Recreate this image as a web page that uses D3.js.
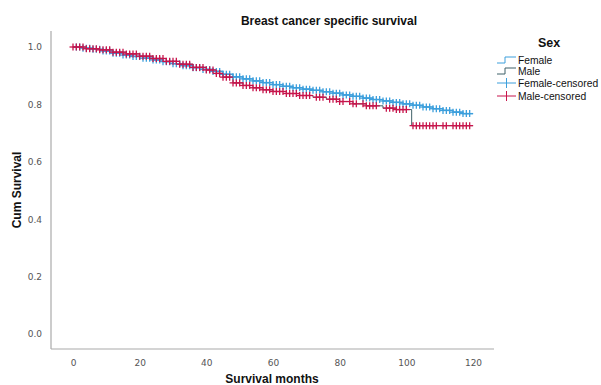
<!DOCTYPE html>
<html><head><meta charset="utf-8">
<script src="https://cdn.jsdelivr.net/npm/d3@7"></script>
<style>body{margin:0;background:#fff}</style>
</head><body>
<script>
// ---- data ----
const xTicks = [0,20,40,60,80,100,120];
const yTicks = [0.0,0.2,0.4,0.6,0.8,1.0];
const femaleTimes = [0,3,6,9,12,15,18,21,24,27,30,33,36,39,42,45,48,51,54,57,60,63,66,69,72,75,78,81,84,87,90,93,96,99,102,105,108,111,114,117,120];
const femaleSurv  = [1.0,0.996,0.992,0.986,0.978,0.972,0.967,0.961,0.955,0.949,0.942,0.935,0.928,0.922,0.915,0.905,0.896,0.889,0.882,0.876,0.869,0.863,0.858,0.853,0.849,0.844,0.839,0.833,0.828,0.822,0.817,0.812,0.807,0.802,0.797,0.791,0.785,0.779,0.773,0.768,0.768];
const maleTimes = [0,4,8,12,16,20,24,28,32,36,40,43,45,48,51,54,57,60,64,68,72,76,80,84,88,93,97,101.6,120];
const maleSurv  = [1.0,0.994,0.990,0.982,0.976,0.968,0.960,0.950,0.940,0.929,0.920,0.908,0.895,0.875,0.866,0.858,0.851,0.845,0.838,0.831,0.825,0.818,0.810,0.802,0.795,0.787,0.782,0.726,0.726];
const femaleCensored = [1,2,3,4,5,6,7,8,9,10,11,12,13,14,15,16,17,18,19,20,21,22,23,24,25,26,27,28,29,30,31,32,33,34,35,36,37,38,39,40,41,42,43,44,45,46,47,48,49,50,51,52,53,54,55,56,57,58,59,60,61,62,63,64,65,66,67,68,69,70,71,72,73,74,75,76,77,78,79,80,81,82,83,84,85,86,87,88,89,90,91,92,93,94,95,96,97,98,99,100,101,102,103,104,105,106,107,108,109,110,111,112,113,114,115,116,117,118,119];
const maleCensored = [0,1,2,3,4,5,6,7,8,9,10,11,12,13,14,15,16,17,18,19,20,21,22,23,24,25,26,27,28,29,30,31,32,33,34,35,36,37,38,39,40,41,42,43,44,45,46,47,48,49,50,51,52,53,54,55,56,57,58,59,60,61,62,63,64,65,66,67,68,69,70,71,73,74,75,77,78,79,80,81,83,84,85,87,88,89,90,91,94,95,96,97,98,99,100,102,103,104,105,106,107,108,109,111,112,114,115,116,117,118,119];
const seriesNames = ["Female","Male","Female-censored","Male-censored"];

// ---- layout ----
const W = 601, H = 385;
const svg = d3.select("body").append("svg").attr("width", W).attr("height", H)
  .style("font-family", "'Liberation Sans', Arial, sans-serif");

const x = d3.scaleLinear().domain([0,120]).range([73,473]);
const y = d3.scaleLinear().domain([0,1]).range([334,47]);
const axisColor = "#aaa";
const blue = "#3c9fdc", red = "#c8154c", maleLine = "#3f6068";

// axes lines
svg.append("line").attr("x1",51).attr("x2",51).attr("y1",31).attr("y2",349).attr("stroke",axisColor).attr("stroke-width",1.2);
svg.append("line").attr("x1",51).attr("x2",494).attr("y1",349).attr("y2",349).attr("stroke",axisColor).attr("stroke-width",1.2);

// tick labels via axes (no tick lines)
const xa = svg.append("g").attr("transform","translate(0,349)")
  .call(d3.axisBottom(x).tickValues(xTicks).tickSize(0).tickPadding(11).tickFormat(d3.format("d")));
xa.select(".domain").remove();
xa.selectAll("text").attr("fill","#555").style("font-size","9px").style("font-family","'DejaVu Sans', sans-serif");
const ya = svg.append("g").attr("transform","translate(51,0)")
  .call(d3.axisLeft(y).tickValues(yTicks).tickSize(0).tickPadding(9).tickFormat(d3.format(".1f")));
ya.select(".domain").remove();
ya.selectAll("text").attr("fill","#555").style("font-size","9px").style("font-family","'DejaVu Sans', sans-serif");

// titles
svg.append("text").attr("x",329).attr("y",25).attr("text-anchor","middle")
  .style("font-weight","bold").style("font-size","12px").attr("fill","#111").text("Breast cancer specific survival");
svg.append("text").attr("x",272).attr("y",383).attr("text-anchor","middle")
  .style("font-weight","bold").style("font-size","12px").attr("fill","#111").text("Survival months");
svg.append("text").attr("transform","translate(21,190) rotate(-90)").attr("text-anchor","middle")
  .style("font-weight","bold").style("font-size","12px").attr("fill","#111").text("Cum Survival");

// survival curves
const line = d3.line().x(d=>x(d[0])).y(d=>y(d[1])).curve(d3.curveStepAfter);
const fData = femaleTimes.map((t,i)=>[t,femaleSurv[i]]);
const mData = maleTimes.map((t,i)=>[t,maleSurv[i]]);
svg.append("path").attr("d",line(fData)).attr("fill","none").attr("stroke",blue).attr("stroke-width",1.2);
svg.append("path").attr("d",line(mData)).attr("fill","none").attr("stroke",maleLine).attr("stroke-width",1);

function survAt(times, surv, t){
  let v = surv[0];
  for (let i=0;i<times.length;i++){ if (times[i] <= t) v = surv[i]; }
  return v;
}
function plus(g, cx, cy, color, s){
  g.append("line").attr("x1",cx-s).attr("x2",cx+s).attr("y1",cy).attr("y2",cy).attr("stroke",color).attr("stroke-width",1.3);
  g.append("line").attr("x1",cx).attr("x2",cx).attr("y1",cy-s).attr("y2",cy+s).attr("stroke",color).attr("stroke-width",1.3);
}
const gF = svg.append("g");
femaleCensored.forEach(t=>plus(gF, x(t), y(survAt(femaleTimes,femaleSurv,t)), blue, 3.5));
const gM = svg.append("g");
maleCensored.forEach(t=>plus(gM, x(t), y(survAt(maleTimes,maleSurv,t)), red, 3.5));

// legend
const lg = svg.append("g");
lg.append("text").attr("x",549).attr("y",47).attr("text-anchor","middle")
  .style("font-weight","bold").style("font-size","12.5px").attr("fill","#111").text("Sex");
const legY = [60,71,83,96];
const legColors = [blue, maleLine, blue, red];
seriesNames.forEach((name,i)=>{
  const yy = legY[i];
  if (i<2){
    lg.append("path").attr("d",`M497,${yy+3}H505V${yy-3}H516`).attr("fill","none").attr("stroke",legColors[i]).attr("stroke-width",1);
  } else {
    lg.append("line").attr("x1",497).attr("x2",516).attr("y1",yy).attr("y2",yy).attr("stroke",legColors[i]).attr("stroke-width",1);
    lg.append("line").attr("x1",506.5).attr("x2",506.5).attr("y1",yy-5).attr("y2",yy+5).attr("stroke",legColors[i]).attr("stroke-width",1);
  }
  lg.append("text").attr("x",518).attr("y",yy+3.5).style("font-size","10.3px").attr("fill","#111").text(name);
});
</script>
</body></html>
